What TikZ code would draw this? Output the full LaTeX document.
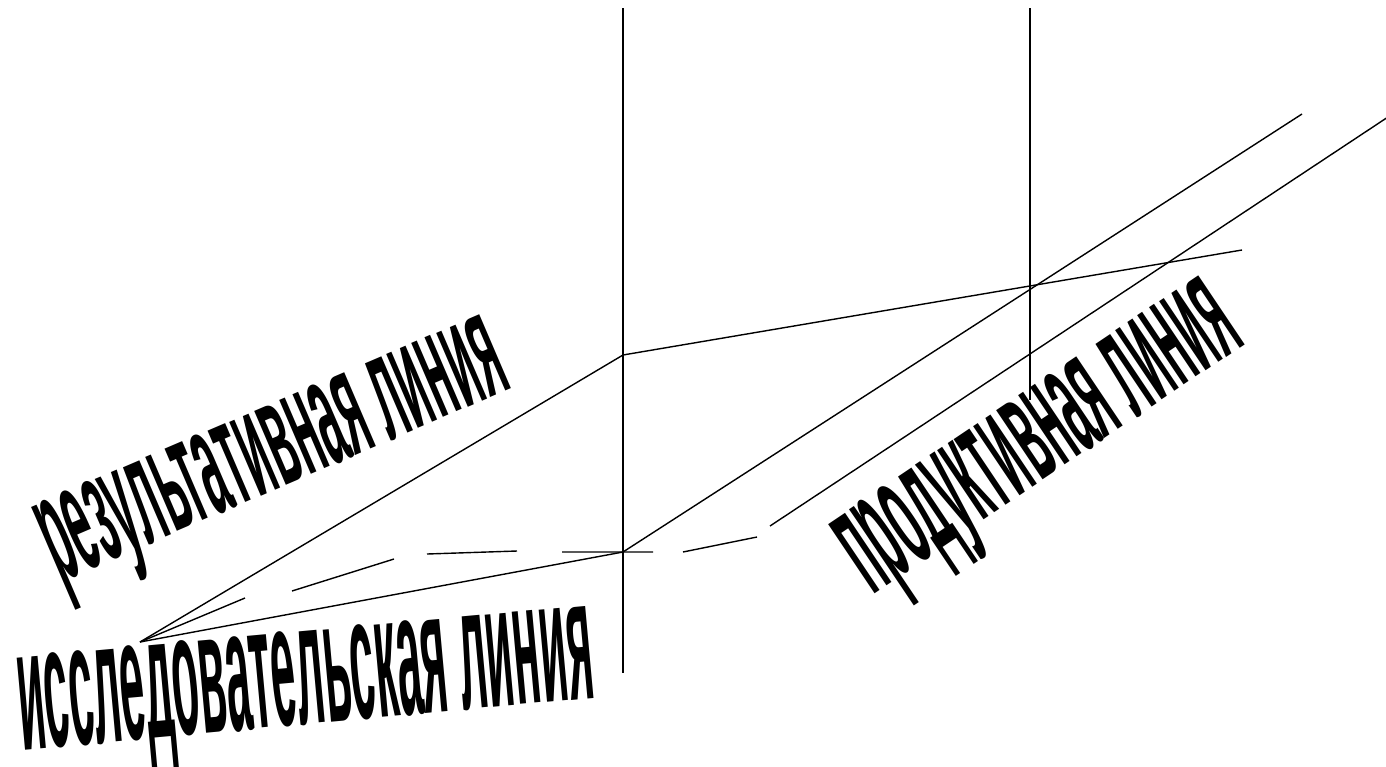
\documentclass[tikz,border=0pt]{standalone}
\usepackage{fontspec}
\setmainfont{Liberation Sans}
\usepackage{graphicx}

\begin{document}
\begin{tikzpicture}[x=1pt, y=-1pt,
				linie/.style={black, line width=1.4pt},
				wordart/.style={anchor=base west, inner sep=0pt, outer sep=0pt, font=\bfseries}]
				% Bildbereich
				\useasboundingbox (0,0) rectangle (1386,766);
				% Punkte
				\coordinate (O) at (140,642);
				\coordinate (A) at (623,355);
				\coordinate (B) at (623,552);
				\coordinate (C) at (1242,250);
				\coordinate (D) at (1302,114);
				\coordinate (E) at (770,526);
				\coordinate (F) at (1388,117);
				\coordinate (V1o) at (623,8);
				\coordinate (V1u) at (623,673);
				\coordinate (V2o) at (1030,8);
				\coordinate (V2u) at (1030,400);
				% Senkrechte
				\draw[linie] (V1o) -- (V1u);
				\draw[linie] (V2o) -- (V2u);
				% Linien
				\draw[linie] (O) -- (A) -- (C);
				\draw[linie] (O) -- (B) -- (D);
				\draw[linie] (E) -- (F);
				% gestrichelt
				\draw[linie] (O) -- (245,598) (292,591) -- (394,559) (427,554) -- (517,551)
					(562,552) -- (653,552) (683,552) -- (757,537);
				% Beschriftung
				\node[wordart, rotate=23.2] (res) at (60,582) {\resizebox{494pt}{82pt}{результативная линия}};
				\node[wordart, rotate=5.2] (isl) at (22,750) {\resizebox{577pt}{94pt}{исследовательская линия}};
				\node[wordart, rotate=33.9] (prd) at (872,595) {\resizebox{452pt}{85pt}{продуктивная линия}};
			\end{tikzpicture}
\end{document}
